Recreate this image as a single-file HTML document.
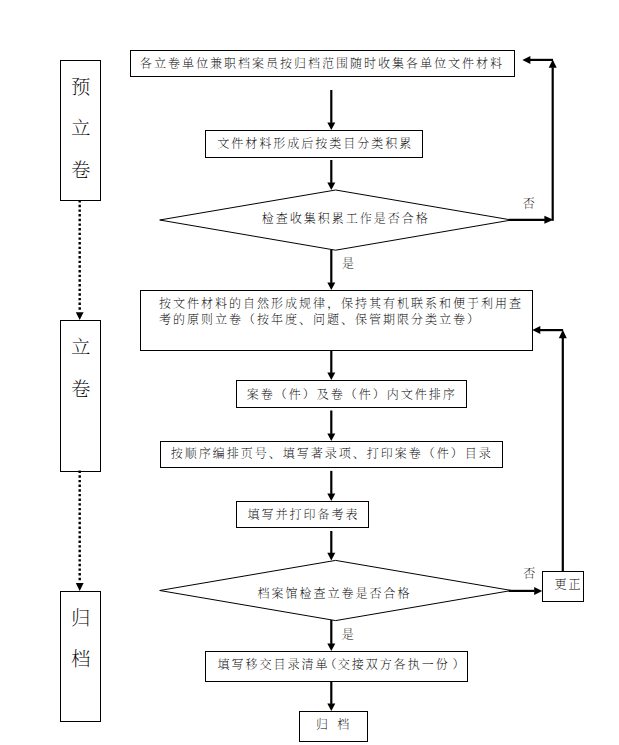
<!DOCTYPE html>
<html lang="zh-CN">
<head>
<meta charset="utf-8">
<title>归档工作流程图</title>
<style>
html,body{margin:0;padding:0;background:#fff;}
body{width:619px;height:745px;overflow:hidden;}
svg{display:block;}
.box rect,.box polygon{fill:#fff;stroke:#000;stroke-width:1;}
.t{stroke:#000;stroke-width:2.2;}
.h{fill:#000;stroke:none;}
.dot{stroke:#000;stroke-width:2.4;stroke-dasharray:2.4 2.26;}
.txt text{font-family:"Liberation Serif", "Noto Serif CJK SC", serif;font-weight:200;fill:#000;}
</style>
</head>
<body>
<svg width="619" height="745" viewBox="0 0 619 745">
<rect x="0" y="0" width="619" height="745" fill="#fff"/>
<g class="box">
<rect x="60.5" y="60.5" width="40.0" height="140.0"/>
<rect x="60.5" y="320.5" width="40.0" height="151.0"/>
<rect x="60.5" y="591.5" width="40.0" height="130.0"/>
<rect x="130.5" y="50.5" width="384.0" height="26.0"/>
<rect x="205.5" y="130.5" width="217.0" height="27.0"/>
<rect x="140.5" y="290.5" width="392.0" height="60.0"/>
<rect x="236.5" y="380.5" width="230.0" height="27.0"/>
<rect x="160.5" y="441.5" width="342.0" height="26.0"/>
<rect x="236.5" y="501.5" width="132.0" height="26.0"/>
<rect x="205.5" y="651.5" width="262.0" height="30.0"/>
<rect x="299.5" y="711.5" width="68.0" height="30.0"/>
<rect x="542.5" y="571.5" width="41.0" height="30.0"/>
<polygon points="159.7,220 335.6,190 511.5,220 335.6,250.2"/>
<polygon points="159.7,590.5 335.6,560.4 511.5,590.5 335.6,620.6"/>
</g>
<line class="dot" x1="79.7" y1="200.1" x2="79.7" y2="311" />
<polygon class="h" points="75.8,312.3 83.6,312.3 79.7,320"/>
<line class="dot" x1="79.7" y1="470.6" x2="79.7" y2="582" />
<polygon class="h" points="75.8,583.1 83.6,583.1 79.7,591"/>
<line class="t" x1="331.3" y1="90" x2="331.3" y2="122.9"/>
<polygon class="h" points="327.3,122.4 335.3,122.4 331.3,130"/>
<line class="t" x1="331.3" y1="160" x2="331.3" y2="182.9"/>
<polygon class="h" points="327.3,182.4 335.3,182.4 331.3,190"/>
<line class="t" x1="331.3" y1="249.6" x2="331.3" y2="282.9"/>
<polygon class="h" points="327.3,282.4 335.3,282.4 331.3,290"/>
<line class="t" x1="331.3" y1="350.5" x2="331.3" y2="372.9"/>
<polygon class="h" points="327.3,372.4 335.3,372.4 331.3,380"/>
<line class="t" x1="331.3" y1="410.5" x2="331.3" y2="433.9"/>
<polygon class="h" points="327.3,433.4 335.3,433.4 331.3,441"/>
<line class="t" x1="331.3" y1="470.9" x2="331.3" y2="493.9"/>
<polygon class="h" points="327.3,493.4 335.3,493.4 331.3,501"/>
<line class="t" x1="331.3" y1="531" x2="331.3" y2="553.3"/>
<polygon class="h" points="327.3,552.8 335.3,552.8 331.3,560.4"/>
<line class="t" x1="331.3" y1="620" x2="331.3" y2="643.9"/>
<polygon class="h" points="327.3,643.4 335.3,643.4 331.3,651"/>
<line class="t" x1="331.3" y1="681.5" x2="331.3" y2="703.9"/>
<polygon class="h" points="327.3,703.4 335.3,703.4 331.3,711"/>
<line class="t" x1="509" y1="219.8" x2="544.9" y2="219.8"/>
<polygon class="h" points="544.4,215.8 544.4,223.8 553.4,219.8"/>
<line class="t" x1="552.7" y1="220.8" x2="552.7" y2="67.3"/>
<polygon class="h" points="548.7,67.8 556.7,67.8 552.7,59.4"/>
<line class="t" x1="553.0" y1="59.9" x2="529.9" y2="59.9"/>
<polygon class="h" points="530.4,55.9 530.4,63.9 522.4,59.9"/>
<line class="t" x1="508.7" y1="590.9" x2="534.7" y2="590.9"/>
<polygon class="h" points="534.2,586.9 534.2,594.9 542.2,590.9"/>
<line class="t" x1="562.8" y1="571.5" x2="562.8" y2="337.7"/>
<polygon class="h" points="558.8,338.2 566.8,338.2 562.8,329.8"/>
<line class="t" x1="563.1" y1="330.1" x2="539.8" y2="330.1"/>
<polygon class="h" points="540.3,326.1 540.3,334.1 532.3,330.1"/>
<g class="txt">
<text x="140.1 154.1 168.1 182.1 196.1 210.1 224.1 238.1 252.1 266.1 280.1 294.1 308.1 322.1 336.1 350.1 364.1 378.1 392.1 406.1 420.1 434.1 448.1 462.1 476.1 490.1" y="67.76" font-size="12.0">各立卷单位兼职档案员按归档范围随时收集各单位文件材料</text>
<text x="217.2 231.2 245.2 259.2 273.2 287.2 301.2 315.2 329.2 343.2 357.2 371.2 385.2 399.2" y="147.76" font-size="12.0">文件材料形成后按类目分类积累</text>
<text x="261.7 275.7 289.7 303.7 317.7 331.7 345.7 359.7 373.7 387.7 401.7 415.7" y="222.56" font-size="12.0">检查收集积累工作是否合格</text>
<text x="159.1 173.1 187.1 201.1 215.1 229.1 243.1 257.1 271.1 285.1 299.1 313.1 327.1 341.1 355.1 369.1 383.1 397.1 411.1 425.1 439.1 453.1 467.1 481.1 495.1 509.1" y="307.56" font-size="12.0">按文件材料的自然形成规律，保持其有机联系和便于利用查</text>
<text x="159.1 173.1 187.1 201.1 215.1 229.1 243.1 257.1 271.1 285.1 299.1 313.1 327.1 341.1 355.1 369.1 383.1 397.1 411.1 425.1 439.1 453.1 467.1" y="323.56" font-size="12.0">考的原则立卷（按年度、问题、保管期限分类立卷）</text>
<text x="246.8 260.8 274.8 288.8 302.8 316.8 330.8 344.8 358.8 372.8 386.8 400.8 414.8 428.8 442.8" y="399.06" font-size="12.0">案卷（件）及卷（件）内文件排序</text>
<text x="170.8 184.8 198.8 212.8 226.8 240.8 254.8 268.8 282.8 296.8 310.8 324.8 338.8 352.8 366.8 380.8 394.8 408.8 422.8 436.8 450.8 464.8 478.8" y="458.36" font-size="12.0">按顺序编排页号、填写著录项、打印案卷（件）目录</text>
<text x="247.5 261.5 275.5 289.5 303.5 317.5 331.5 345.5" y="518.86" font-size="12.0">填写并打印备考表</text>
<text x="257.6 271.6 285.6 299.6 313.6 327.6 341.6 355.6 369.6 383.6 397.6" y="597.56" font-size="12.0">档案馆检查立卷是否合格</text>
<text x="217.5 231.5 245.5 259.5 273.5 287.5 301.5 315.5 324.5 337.8 351.8 365.8 379.8 393.8 407.8 421.8 435.8 452.5" y="668.86" font-size="12.0">填写移交目录清单（交接双方各执一份）</text>
<text x="315.9 329.9 337.3" y="728.86" font-size="12.0">归 档</text>
<text x="554.4 568.4" y="588.76" font-size="12.0">更正</text>
<text x="522.8" y="207.56" font-size="12.0">否</text>
<text x="523.3" y="577.56" font-size="12.0">否</text>
<text x="341.9" y="267.76" font-size="12.0">是</text>
<text x="341.7" y="638.76" font-size="12.0">是</text>
<text x="80.6 80.6 80.6" y="93.97 134.77 176.77" font-size="19.4" text-anchor="middle">预立卷</text>
<text x="80.6 80.6" y="353.87 396.07" font-size="19.4" text-anchor="middle">立卷</text>
<text x="80.6 80.6" y="624.87 665.97" font-size="19.4" text-anchor="middle">归档</text>
</g>
</svg>
</body>
</html>
